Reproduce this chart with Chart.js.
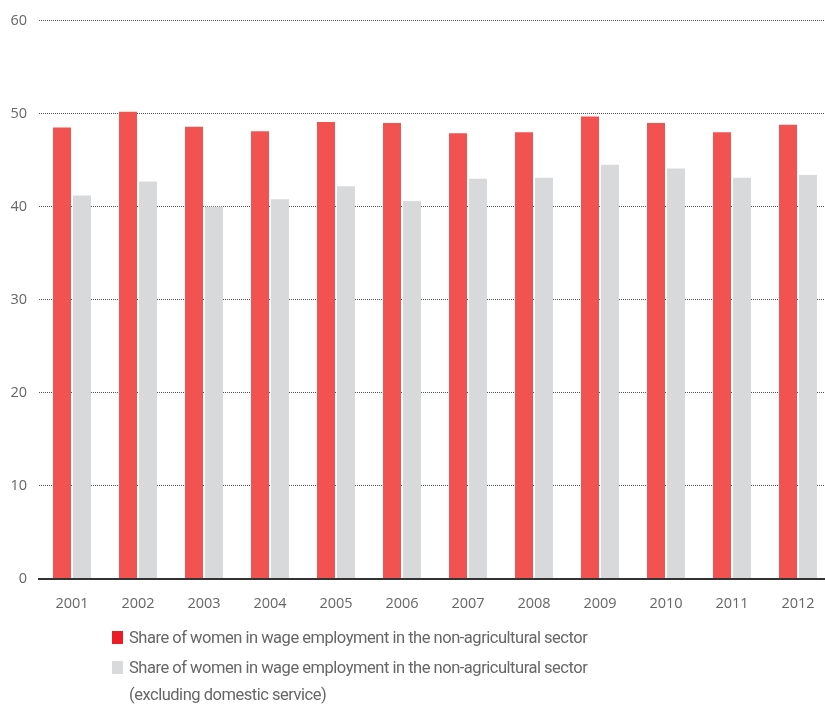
<!DOCTYPE html>
<html>
<head>
<meta charset="utf-8">
<script src="https://cdn.jsdelivr.net/npm/chart.js@4.4.1/dist/chart.umd.min.js"></script>
<style>
  html, body { margin: 0; padding: 0; background: #fff; overflow: hidden; }
  #wrap { position: relative; width: 825px; height: 704px; overflow: hidden; }
  #chartBox { position: absolute; left: 0; top: 0; width: 831px; height: 625px; }
  .legend { position: absolute; left: 112px; top: 624px; font-family: Roboto, "Open Sans", sans-serif; font-size: 16.5px; color: #666; line-height: 27px; letter-spacing: -0.48px; }
  .legend-item { position: relative; padding-left: 17px; margin-bottom: 3px; }
  .legend-color { position: absolute; left: 0; top: 7px; width: 11px; height: 13px; }
  .legend-color.red { background: #ed1c24; }
  .legend-color.grey { background: #d9dadc; }
</style>
</head>
<body>
<div id="wrap">
  <div id="chartBox"><canvas id="wageChart"></canvas></div>
  <div class="legend">
    <div class="legend-item"><div class="legend-color red"></div><span id="lbl0"></span></div>
    <div class="legend-item"><div class="legend-color grey"></div><span id="lbl1"></span></div>
  </div>
</div>
<script>
const years = ['2001', '2002', '2003', '2004', '2005', '2006', '2007', '2008', '2009', '2010', '2011', '2012'];
const shareWomen = [48.5, 50.2, 48.6, 48.1, 49.1, 49.0, 47.9, 48.0, 49.7, 49.0, 48.0, 48.8];
const shareWomenExclDomestic = [41.2, 42.7, 40.0, 40.8, 42.2, 40.6, 43.0, 43.1, 44.5, 44.1, 43.1, 43.4];
const yTicks = [0, 10, 20, 30, 40, 50, 60];
const seriesLabels = [
  'Share of women in wage employment in the non-agricultural sector',
  'Share of women in wage employment in the non-agricultural sector\n(excluding domestic service)'
];

// legend is plain HTML under the canvas
seriesLabels.forEach((text, i) => {
  const el = document.getElementById('lbl' + i);
  text.split('\n').forEach((line, j) => {
    if (j > 0) el.appendChild(document.createElement('br'));
    el.appendChild(document.createTextNode(line));
  });
});

const tickFont = { family: '"Open Sans", sans-serif', size: 14.5 };

new Chart(document.getElementById('wageChart'), {
  type: 'bar',
  data: {
    labels: years,
    datasets: [
      {
        label: seriesLabels[0],
        data: shareWomen,
        backgroundColor: '#f25350',
        categoryPercentage: 0.606,
        barPercentage: 0.9
      },
      {
        label: seriesLabels[1],
        data: shareWomenExclDomestic,
        backgroundColor: '#d8d9db',
        categoryPercentage: 0.606,
        barPercentage: 0.9
      }
    ]
  },
  options: {
    responsive: true,
    maintainAspectRatio: false,
    animation: false,
    layout: { padding: { top: 20, right: 0, left: 0, bottom: 0 } },
    plugins: {
      legend: { display: false },
      tooltip: { enabled: false }
    },
    scales: {
      x: {
        grid: { display: false },
        border: { display: true, color: '#333', width: 2 },
        ticks: { color: '#666', font: tickFont, padding: 9 },
        afterFit: scale => { scale.height = 46.5; }
      },
      y: {
        min: 0,
        max: 60,
        afterBuildTicks: scale => { scale.ticks = yTicks.map(v => ({ value: v })); },
        afterFit: scale => { scale.width = 39; },
        grid: {
          color: ctx => (ctx.tick && ctx.tick.value === 0 ? 'rgba(0,0,0,0)' : '#555'),
          lineWidth: 1,
          drawTicks: false
        },
        border: { display: false, dash: [1, 1] },
        ticks: { color: '#666', font: tickFont, padding: 12 }
      }
    }
  }
});
</script>
</body>
</html>
